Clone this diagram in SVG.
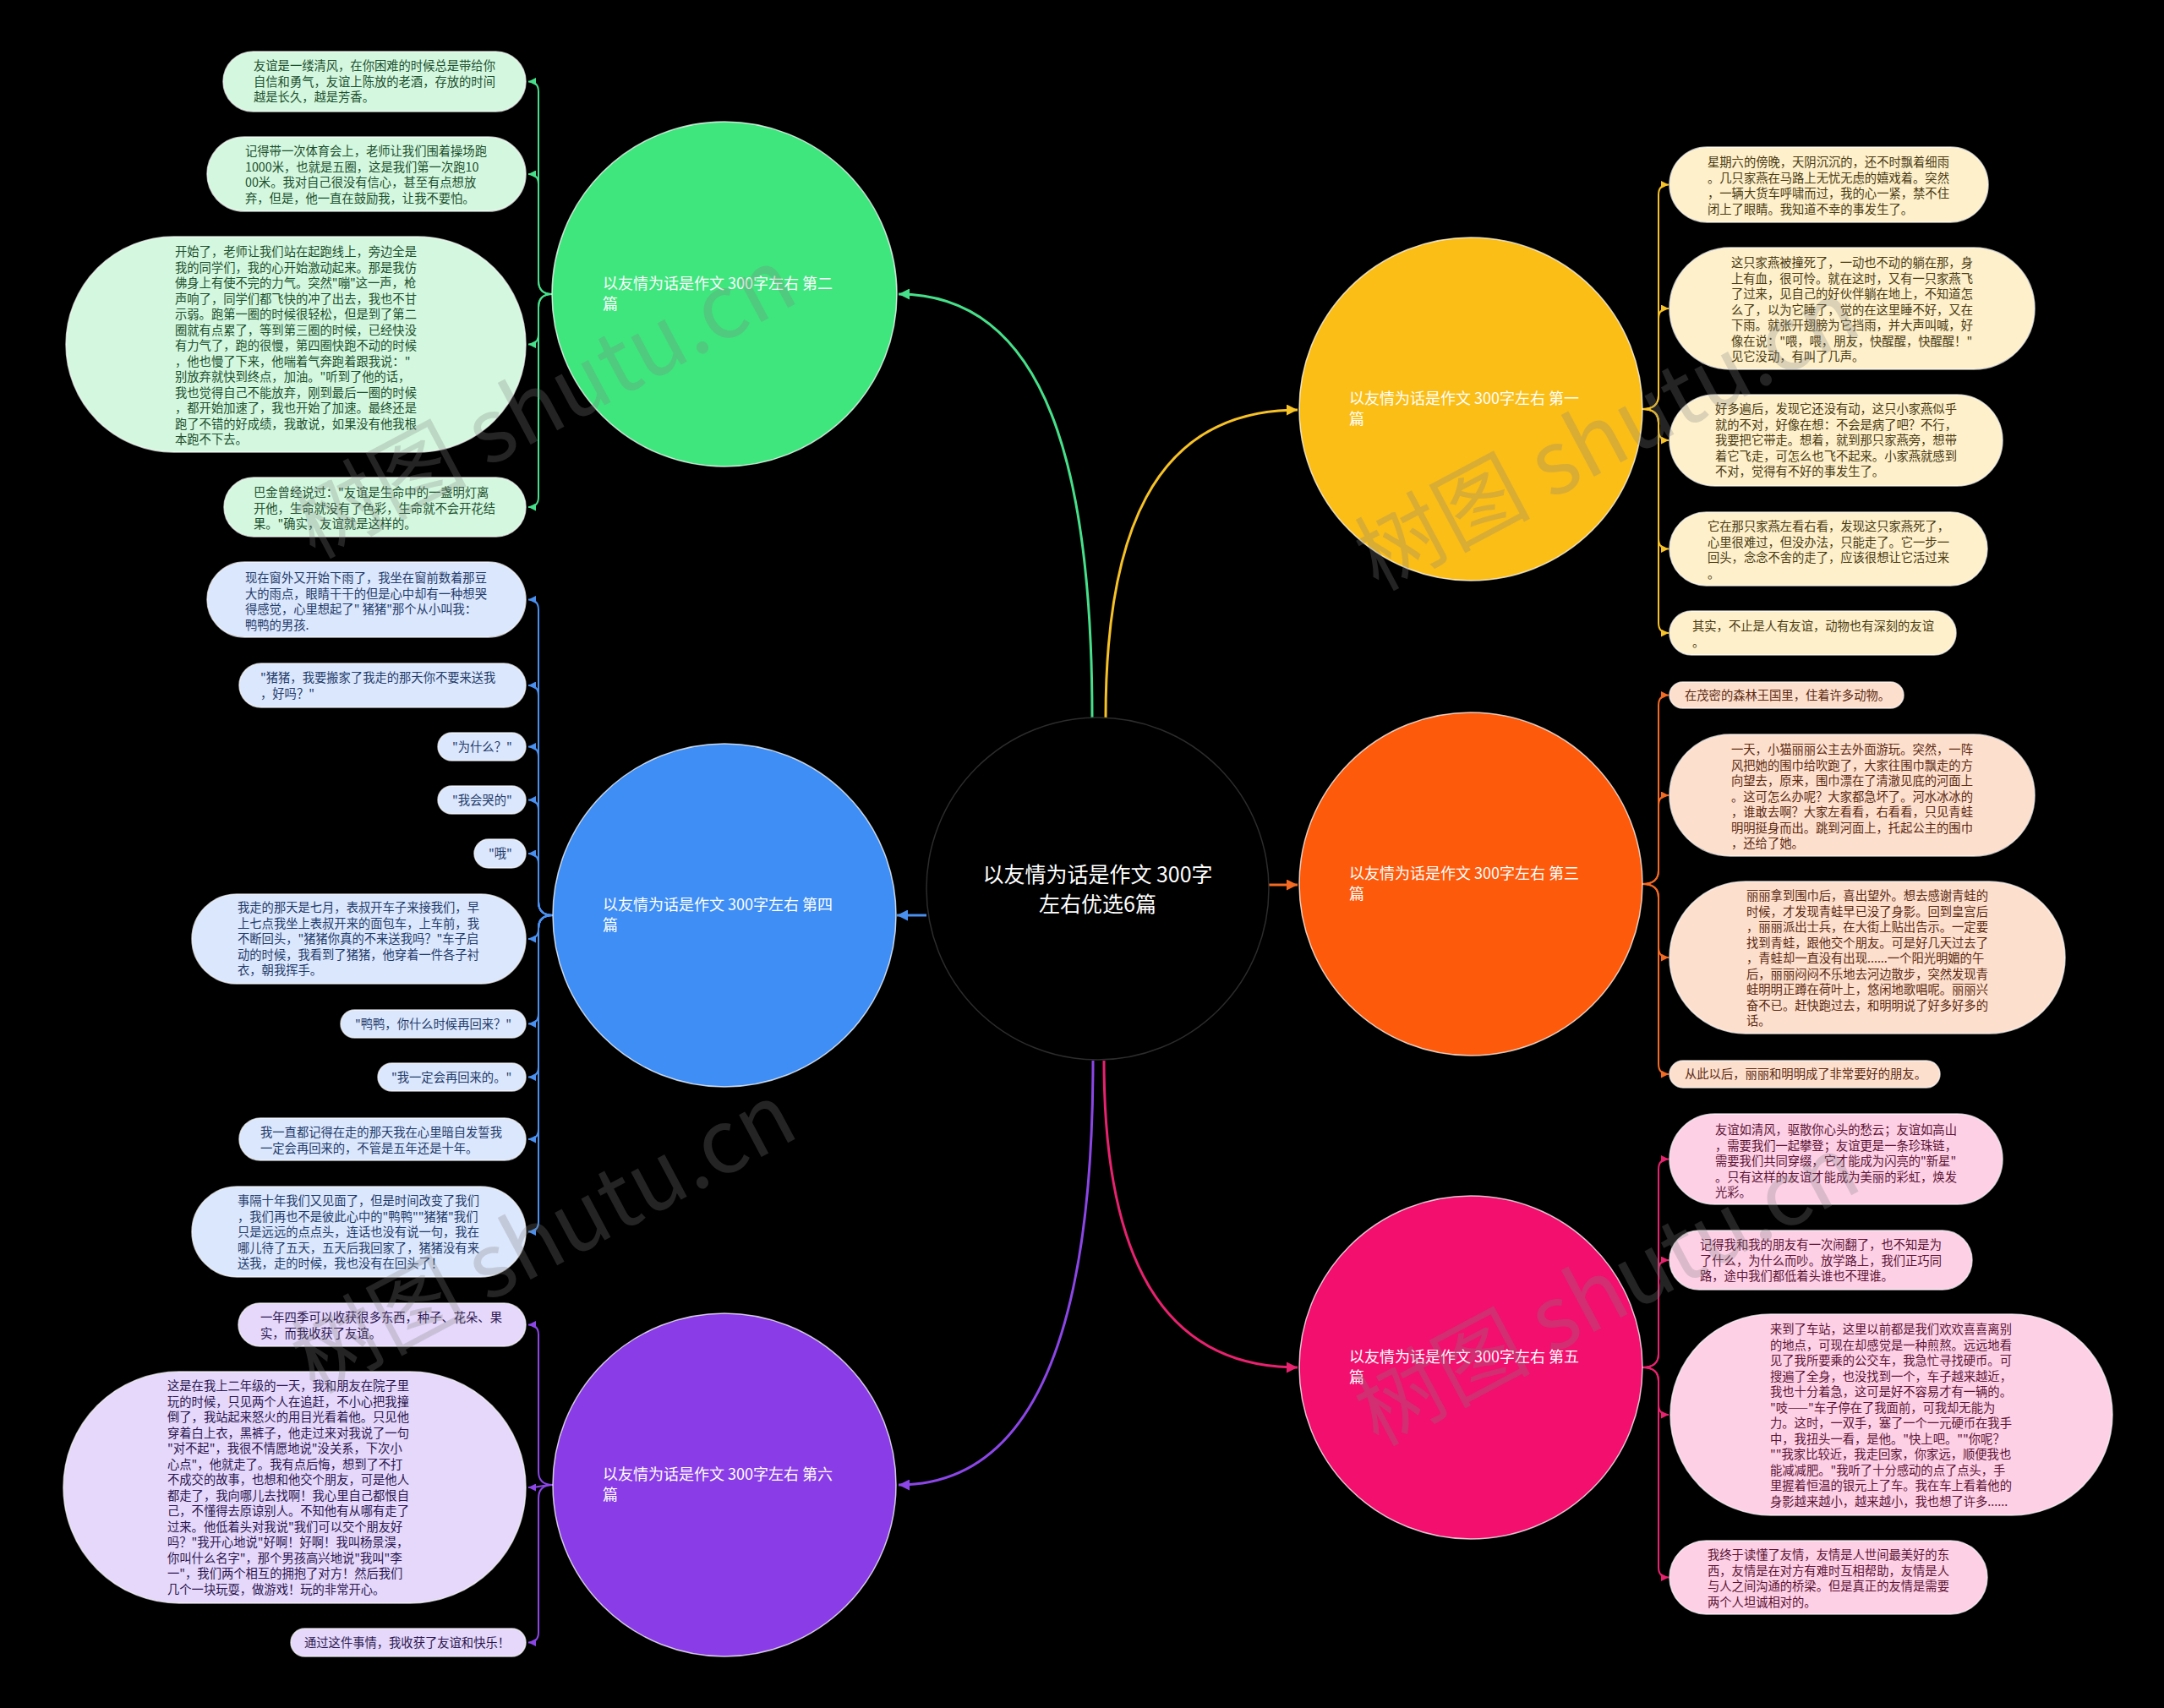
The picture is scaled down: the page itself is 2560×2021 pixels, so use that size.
<svg xmlns="http://www.w3.org/2000/svg" width="2560" height="2021" viewBox="0 0 2560 2021">
<defs>
<style>
text{font-family:"Noto Sans CJK SC","Noto Sans",sans-serif;}
.lt{font-size:14.3px;}
.lab{font-size:18px;fill:#ffffff;}
.ctr{font-size:25px;fill:#ffffff;text-anchor:middle;}
.main{stroke:#ffffff;stroke-opacity:0.75;stroke-width:1.5;}
.leaf rect{stroke:#ffffff;stroke-opacity:0.7;stroke-width:1.5;}
.g rect{fill:#d4f8df;} .g text{fill:#1c4f2e;}
.b rect{fill:#dbe7fc;} .b text{fill:#1f3b6b;}
.p rect{fill:#e5d8fa;} .p text{fill:#2b1650;}
.y rect{fill:#fdf0cb;} .y text{fill:#4a3a12;}
.o rect{fill:#fddfcd;} .o text{fill:#5b2a12;}
.k rect{fill:#fdd0e6;} .k text{fill:#5c1434;}
.ln{fill:none;stroke-width:2;}
.mln{fill:none;stroke-width:3;}
.wm{font-size:104px;fill:#808080;fill-opacity:0.28;}
</style>
<marker id="ag" viewBox="0 0 10 10" refX="10" refY="5" markerWidth="9" markerHeight="9" markerUnits="userSpaceOnUse" orient="auto"><path d="M0,0 L10,5 L0,10 z" fill="#47e08a"/></marker>
<marker id="ab" viewBox="0 0 10 10" refX="10" refY="5" markerWidth="9" markerHeight="9" markerUnits="userSpaceOnUse" orient="auto"><path d="M0,0 L10,5 L0,10 z" fill="#4a90f0"/></marker>
<marker id="ap" viewBox="0 0 10 10" refX="10" refY="5" markerWidth="9" markerHeight="9" markerUnits="userSpaceOnUse" orient="auto"><path d="M0,0 L10,5 L0,10 z" fill="#8c46e8"/></marker>
<marker id="ay" viewBox="0 0 10 10" refX="10" refY="5" markerWidth="9" markerHeight="9" markerUnits="userSpaceOnUse" orient="auto"><path d="M0,0 L10,5 L0,10 z" fill="#f7c226"/></marker>
<marker id="ao" viewBox="0 0 10 10" refX="10" refY="5" markerWidth="9" markerHeight="9" markerUnits="userSpaceOnUse" orient="auto"><path d="M0,0 L10,5 L0,10 z" fill="#f46a22"/></marker>
<marker id="ak" viewBox="0 0 10 10" refX="10" refY="5" markerWidth="9" markerHeight="9" markerUnits="userSpaceOnUse" orient="auto"><path d="M0,0 L10,5 L0,10 z" fill="#e8226f"/></marker>
<marker id="Mg" viewBox="0 0 10 10" refX="10" refY="5" markerWidth="13" markerHeight="13" markerUnits="userSpaceOnUse" orient="auto"><path d="M0,0 L10,5 L0,10 z" fill="#47e08a"/></marker>
<marker id="Mb" viewBox="0 0 10 10" refX="10" refY="5" markerWidth="13" markerHeight="13" markerUnits="userSpaceOnUse" orient="auto"><path d="M0,0 L10,5 L0,10 z" fill="#4a90f0"/></marker>
<marker id="Mp" viewBox="0 0 10 10" refX="10" refY="5" markerWidth="13" markerHeight="13" markerUnits="userSpaceOnUse" orient="auto"><path d="M0,0 L10,5 L0,10 z" fill="#8c46e8"/></marker>
<marker id="My" viewBox="0 0 10 10" refX="10" refY="5" markerWidth="13" markerHeight="13" markerUnits="userSpaceOnUse" orient="auto"><path d="M0,0 L10,5 L0,10 z" fill="#f7c226"/></marker>
<marker id="Mo" viewBox="0 0 10 10" refX="10" refY="5" markerWidth="13" markerHeight="13" markerUnits="userSpaceOnUse" orient="auto"><path d="M0,0 L10,5 L0,10 z" fill="#f46a22"/></marker>
<marker id="Mk" viewBox="0 0 10 10" refX="10" refY="5" markerWidth="13" markerHeight="13" markerUnits="userSpaceOnUse" orient="auto"><path d="M0,0 L10,5 L0,10 z" fill="#e8226f"/></marker>
</defs>
<rect x="0" y="0" width="2560" height="2021" fill="#000000"/>

<g id="connectors">
<path class="mln" stroke="#47e08a" marker-end="url(#Mg)" d="M1292,849 C1292,560 1240,348 1063,348"/>
<path class="mln" stroke="#f7c226" marker-end="url(#My)" d="M1308,849 C1308,640 1360,485 1535,485"/>
<path class="mln" stroke="#f46a22" marker-end="url(#Mo)" d="M1501,1047 L1535,1047"/>
<path class="mln" stroke="#4a90f0" marker-end="url(#Mb)" d="M1096,1083 L1061,1083"/>
<path class="mln" stroke="#8c46e8" marker-end="url(#Mp)" d="M1293,1255 C1293,1560 1230,1757 1063,1757"/>
<path class="mln" stroke="#e8226f" marker-end="url(#Mk)" d="M1306,1255 C1306,1480 1370,1618 1535,1618"/>

<g stroke="#47e08a">
<path class="ln" marker-end="url(#ag)" d="M653,348 Q637,348 637,332 L637,108.5 Q637,96.5 625,96.5"/>
<path class="ln" marker-end="url(#ag)" d="M653,348 Q637,348 637,332 L637,218 Q637,206 625,206"/>
<path class="ln" marker-end="url(#ag)" d="M653,348 Q637,348 637,364 L637,395.5 Q637,407.5 625,407.5"/>
<path class="ln" marker-end="url(#ag)" d="M653,348 Q637,348 637,364 L637,588 Q637,600 625,600"/>
</g>
<g stroke="#4a90f0">
<path class="ln" marker-end="url(#ab)" d="M654,1083 Q637,1083 637,1067 L637,721.5 Q637,709.5 625,709.5"/>
<path class="ln" marker-end="url(#ab)" d="M654,1083 Q637,1083 637,1067 L637,823 Q637,811 625,811"/>
<path class="ln" marker-end="url(#ab)" d="M654,1083 Q637,1083 637,1067 L637,895.5 Q637,883.5 625,883.5"/>
<path class="ln" marker-end="url(#ab)" d="M654,1083 Q637,1083 637,1067 L637,958.5 Q637,946.5 625,946.5"/>
<path class="ln" marker-end="url(#ab)" d="M654,1083 Q637,1083 637,1067 L637,1022 Q637,1010 625,1010"/>
<path class="ln" marker-end="url(#ab)" d="M654,1083 Q637,1083 637,1097 L637,1099 Q637,1111 625,1111"/>
<path class="ln" marker-end="url(#ab)" d="M654,1083 Q637,1083 637,1099 L637,1199.5 Q637,1211.5 625,1211.5"/>
<path class="ln" marker-end="url(#ab)" d="M654,1083 Q637,1083 637,1099 L637,1262.5 Q637,1274.5 625,1274.5"/>
<path class="ln" marker-end="url(#ab)" d="M654,1083 Q637,1083 637,1099 L637,1336 Q637,1348 625,1348"/>
<path class="ln" marker-end="url(#ab)" d="M654,1083 Q637,1083 637,1099 L637,1445.5 Q637,1457.5 625,1457.5"/>
</g>
<g stroke="#8c46e8">
<path class="ln" marker-end="url(#ap)" d="M654,1757 Q637,1757 637,1741 L637,1579.5 Q637,1567.5 625,1567.5"/>
<path class="ln" marker-end="url(#ap)" d="M654,1757 C640,1757 640,1760 625,1760"/>
<path class="ln" marker-end="url(#ap)" d="M654,1757 Q637,1757 637,1773 L637,1931.5 Q637,1943.5 625,1943.5"/>
</g>
<g stroke="#f7c226">
<path class="ln" marker-end="url(#ay)" d="M1943,484 Q1962,484 1962,468 L1962,230.5 Q1962,218.5 1974,218.5"/>
<path class="ln" marker-end="url(#ay)" d="M1943,484 Q1962,484 1962,468 L1962,377 Q1962,365 1974,365"/>
<path class="ln" marker-end="url(#ay)" d="M1943,484 Q1962,484 1962,500 L1962,509 Q1962,521 1974,521"/>
<path class="ln" marker-end="url(#ay)" d="M1943,484 Q1962,484 1962,500 L1962,637.5 Q1962,649.5 1974,649.5"/>
<path class="ln" marker-end="url(#ay)" d="M1943,484 Q1962,484 1962,500 L1962,737 Q1962,749 1974,749"/>
</g>
<g stroke="#f46a22">
<path class="ln" marker-end="url(#ao)" d="M1943,1046 Q1962,1046 1962,1030 L1962,834.5 Q1962,822.5 1974,822.5"/>
<path class="ln" marker-end="url(#ao)" d="M1943,1046 Q1962,1046 1962,1030 L1962,953 Q1962,941 1974,941"/>
<path class="ln" marker-end="url(#ao)" d="M1943,1046 Q1962,1046 1962,1062 L1962,1121 Q1962,1133 1974,1133"/>
<path class="ln" marker-end="url(#ao)" d="M1943,1046 Q1962,1046 1962,1062 L1962,1259 Q1962,1271 1974,1271"/>
</g>
<g stroke="#e8226f">
<path class="ln" marker-end="url(#ak)" d="M1943,1618 Q1962,1618 1962,1602 L1962,1383.5 Q1962,1371.5 1974,1371.5"/>
<path class="ln" marker-end="url(#ak)" d="M1943,1618 Q1962,1618 1962,1602 L1962,1503 Q1962,1491 1974,1491"/>
<path class="ln" marker-end="url(#ak)" d="M1943,1618 Q1962,1618 1962,1634 L1962,1662 Q1962,1674 1974,1674"/>
<path class="ln" marker-end="url(#ak)" d="M1943,1618 Q1962,1618 1962,1634 L1962,1854.5 Q1962,1866.5 1974,1866.5"/>
</g>
</g>

<g id="center">
<circle cx="1298.5" cy="1051.5" r="202.5" fill="#000000" stroke="#2c2c2c" stroke-width="1.5"/>
<text class="ctr"><tspan x="1298.5" y="1044">以友情为话是作文 300字</tspan><tspan x="1298.5" y="1079">左右优选6篇</tspan></text>
</g>

<g id="topic-green"><circle class="main" cx="857" cy="348" r="204" fill="#3ee67d"/>
<text class="lab"><tspan x="713" y="342">以友情为话是作文 300字左右 第二</tspan><tspan x="713" y="366">篇</tspan></text></g>
<g id="topic-blue"><circle class="main" cx="857" cy="1083" r="203" fill="#3e8ef5"/>
<text class="lab"><tspan x="713" y="1077">以友情为话是作文 300字左右 第四</tspan><tspan x="713" y="1101">篇</tspan></text></g>
<g id="topic-purple"><circle class="main" cx="857" cy="1757" r="203" fill="#8a3de6"/>
<text class="lab"><tspan x="713" y="1751">以友情为话是作文 300字左右 第六</tspan><tspan x="713" y="1775">篇</tspan></text></g>
<g id="topic-yellow"><circle class="main" cx="1740" cy="484" r="203" fill="#fbbe17"/>
<text class="lab"><tspan x="1596" y="478">以友情为话是作文 300字左右 第一</tspan><tspan x="1596" y="502">篇</tspan></text></g>
<g id="topic-orange"><circle class="main" cx="1740" cy="1046" r="203" fill="#fd5a0b"/>
<text class="lab"><tspan x="1596" y="1040">以友情为话是作文 300字左右 第三</tspan><tspan x="1596" y="1064">篇</tspan></text></g>
<g id="topic-pink"><circle class="main" cx="1740" cy="1618" r="203" fill="#f20f6d"/>
<text class="lab"><tspan x="1596" y="1612">以友情为话是作文 300字左右 第五</tspan><tspan x="1596" y="1636">篇</tspan></text></g>

<g id="g1" class="leaf g"><rect x="264" y="61" width="358" height="71" rx="35.5"/>
<text class="lt"><tspan x="300" y="83">友谊是一缕清风，在你困难的时候总是带给你</tspan><tspan x="300" y="101.5">自信和勇气，友谊上陈放的老酒，存放的时间</tspan><tspan x="300" y="120">越是长久，越是芳香。</tspan></text></g>
<g id="g2" class="leaf g"><rect x="245" y="162" width="377" height="88" rx="44"/>
<text class="lt"><tspan x="290" y="184">记得带一次体育会上，老师让我们围着操场跑</tspan><tspan x="290" y="202.5">1000米，也就是五圈，这是我们第一次跑10</tspan><tspan x="290" y="221">00米。我对自己很没有信心，甚至有点想放</tspan><tspan x="290" y="239.5">弃，但是，他一直在鼓励我，让我不要怕。</tspan></text></g>
<g id="g3" class="leaf g"><rect x="78" y="280" width="544" height="255" rx="127.5"/>
<text class="lt"><tspan x="207" y="303">开始了，老师让我们站在起跑线上，旁边全是</tspan><tspan x="207" y="321.5">我的同学们，我的心开始激动起来。那是我仿</tspan><tspan x="207" y="340">佛身上有使不完的力气。突然"嘣"这一声，枪</tspan><tspan x="207" y="358.5">声响了，同学们都飞快的冲了出去，我也不甘</tspan><tspan x="207" y="377">示弱。跑第一圈的时候很轻松，但是到了第二</tspan><tspan x="207" y="395.5">圈就有点累了，等到第三圈的时候，已经快没</tspan><tspan x="207" y="414">有力气了，跑的很慢，第四圈快跑不动的时候</tspan><tspan x="207" y="432.5">，他也慢了下来，他喘着气奔跑着跟我说："</tspan><tspan x="207" y="451">别放弃就快到终点，加油。"听到了他的话，</tspan><tspan x="207" y="469.5">我也觉得自己不能放弃，刚到最后一圈的时候</tspan><tspan x="207" y="488">，都开始加速了，我也开始了加速。最终还是</tspan><tspan x="207" y="506.5">跑了不错的好成绩，我敢说，如果没有他我根</tspan><tspan x="207" y="525">本跑不下去。</tspan></text></g>
<g id="g4" class="leaf g"><rect x="265" y="565" width="357" height="70" rx="35"/>
<text class="lt"><tspan x="300" y="588">巴金曾经说过："友谊是生命中的一盏明灯离</tspan><tspan x="300" y="606.5">开他，生命就没有了色彩，生命就不会开花结</tspan><tspan x="300" y="625">果。"确实，友谊就是这样的。</tspan></text></g>

<g id="b1" class="leaf b"><rect x="245" y="665" width="377" height="89" rx="44.5"/>
<text class="lt"><tspan x="290" y="689">现在窗外又开始下雨了，我坐在窗前数着那豆</tspan><tspan x="290" y="707.5">大的雨点，眼睛干干的但是心中却有一种想哭</tspan><tspan x="290" y="726">得感觉，心里想起了" 猪猪"那个从小叫我：</tspan><tspan x="290" y="744.5">鸭鸭的男孩.</tspan></text></g>
<g id="b2" class="leaf b"><rect x="283" y="785" width="339" height="52" rx="26"/>
<text class="lt"><tspan x="308" y="807">"猪猪，我要搬家了我走的那天你不要来送我</tspan><tspan x="308" y="825.5">，好吗？"</tspan></text></g>
<g id="b3" class="leaf b"><rect x="518" y="867" width="104" height="33" rx="16.5"/>
<text class="lt"><tspan x="535" y="889">"为什么？"</tspan></text></g>
<g id="b4" class="leaf b"><rect x="518" y="930" width="104" height="33" rx="16.5"/>
<text class="lt"><tspan x="535" y="952">"我会哭的"</tspan></text></g>
<g id="b5" class="leaf b"><rect x="561" y="993" width="61" height="34" rx="17"/>
<text class="lt"><tspan x="578" y="1015">"哦"</tspan></text></g>
<g id="b6" class="leaf b"><rect x="227" y="1058" width="395" height="106" rx="53"/>
<text class="lt"><tspan x="281" y="1079">我走的那天是七月，表叔开车子来接我们，早</tspan><tspan x="281" y="1097.5">上七点我坐上表叔开来的面包车，上车前，我</tspan><tspan x="281" y="1116">不断回头，"猪猪你真的不来送我吗？"车子启</tspan><tspan x="281" y="1134.5">动的时候，我看到了猪猪，他穿着一件各子衬</tspan><tspan x="281" y="1153">衣，朝我挥手。</tspan></text></g>
<g id="b7" class="leaf b"><rect x="403" y="1195" width="219" height="33" rx="16.5"/>
<text class="lt"><tspan x="420" y="1217">"鸭鸭，你什么时候再回来？"</tspan></text></g>
<g id="b8" class="leaf b"><rect x="447" y="1258" width="175" height="33" rx="16.5"/>
<text class="lt"><tspan x="463" y="1280">"我一定会再回来的。"</tspan></text></g>
<g id="b9" class="leaf b"><rect x="283" y="1323" width="339" height="50" rx="25"/>
<text class="lt"><tspan x="308" y="1345">我一直都记得在走的那天我在心里暗自发誓我</tspan><tspan x="308" y="1363.5">一定会再回来的，不管是五年还是十年。</tspan></text></g>
<g id="b10" class="leaf b"><rect x="227" y="1404" width="395" height="107" rx="53.5"/>
<text class="lt"><tspan x="281" y="1426">事隔十年我们又见面了，但是时间改变了我们</tspan><tspan x="281" y="1444.5">，我们再也不是彼此心中的"鸭鸭""猪猪"我们</tspan><tspan x="281" y="1463">只是远远的点点头，连话也没有说一句，我在</tspan><tspan x="281" y="1481.5">哪儿待了五天，五天后我回家了，猪猪没有来</tspan><tspan x="281" y="1500">送我，走的时候，我也没有在回头了！</tspan></text></g>

<g id="p1" class="leaf p"><rect x="282" y="1542" width="340" height="51" rx="25.5"/>
<text class="lt"><tspan x="308" y="1564">一年四季可以收获很多东西，种子、花朵、果</tspan><tspan x="308" y="1582.5">实，而我收获了友谊。</tspan></text></g>
<g id="p2" class="leaf p"><rect x="75" y="1623" width="547" height="274" rx="137"/>
<text class="lt"><tspan x="198" y="1645">这是在我上二年级的一天，我和朋友在院子里</tspan><tspan x="198" y="1663.5">玩的时候，只见两个人在追赶，不小心把我撞</tspan><tspan x="198" y="1682">倒了，我站起来怒火的用目光看着他。只见他</tspan><tspan x="198" y="1700.5">穿着白上衣，黑裤子，他走过来对我说了一句</tspan><tspan x="198" y="1719">"对不起"，我很不情愿地说"没关系，下次小</tspan><tspan x="198" y="1737.5">心点"，他就走了。我有点后悔，想到了不打</tspan><tspan x="198" y="1756">不成交的故事，也想和他交个朋友，可是他人</tspan><tspan x="198" y="1774.5">都走了，我向哪儿去找啊！我心里自己都恨自</tspan><tspan x="198" y="1793">己，不懂得去原谅别人。不知他有从哪有走了</tspan><tspan x="198" y="1811.5">过来。他低着头对我说"我们可以交个朋友好</tspan><tspan x="198" y="1830">吗？"我开心地说"好啊！好啊！我叫杨景淏，</tspan><tspan x="198" y="1848.5">你叫什么名字"，那个男孩高兴地说"我叫"李</tspan><tspan x="198" y="1867">一"，我们两个相互的拥抱了对方！然后我们</tspan><tspan x="198" y="1885.5">几个一块玩耍，做游戏！玩的非常开心。</tspan></text></g>
<g id="p3" class="leaf p"><rect x="344" y="1927" width="278" height="33" rx="16.5"/>
<text class="lt"><tspan x="360" y="1949">通过这件事情，我收获了友谊和快乐！</tspan></text></g>

<g id="y1" class="leaf y"><rect x="1975" y="174" width="377" height="89" rx="44.5"/>
<text class="lt"><tspan x="2020" y="197">星期六的傍晚，天阴沉沉的，还不时飘着细雨</tspan><tspan x="2020" y="215.5">。几只家燕在马路上无忧无虑的嬉戏着。突然</tspan><tspan x="2020" y="234">，一辆大货车呼啸而过，我的心一紧，禁不住</tspan><tspan x="2020" y="252.5">闭上了眼睛。我知道不幸的事发生了。</tspan></text></g>
<g id="y2" class="leaf y"><rect x="1975" y="293" width="432" height="144" rx="72"/>
<text class="lt"><tspan x="2048" y="316">这只家燕被撞死了，一动也不动的躺在那，身</tspan><tspan x="2048" y="334.5">上有血，很可怜。就在这时，又有一只家燕飞</tspan><tspan x="2048" y="353">了过来，见自己的好伙伴躺在地上，不知道怎</tspan><tspan x="2048" y="371.5">么了，以为它睡了，觉的在这里睡不好，又在</tspan><tspan x="2048" y="390">下雨。就张开翅膀为它挡雨，并大声叫喊，好</tspan><tspan x="2048" y="408.5">像在说："喂，喂，朋友，快醒醒，快醒醒！"</tspan><tspan x="2048" y="427">见它没动，有叫了几声。</tspan></text></g>
<g id="y3" class="leaf y"><rect x="1975" y="467" width="394" height="108" rx="54"/>
<text class="lt"><tspan x="2029" y="489">好多遍后，发现它还没有动，这只小家燕似乎</tspan><tspan x="2029" y="507.5">就的不对，好像在想：不会是病了吧？不行，</tspan><tspan x="2029" y="526">我要把它带走。想着，就到那只家燕旁，想带</tspan><tspan x="2029" y="544.5">着它飞走，可怎么也飞不起来。小家燕就感到</tspan><tspan x="2029" y="563">不对，觉得有不好的事发生了。</tspan></text></g>
<g id="y4" class="leaf y"><rect x="1975" y="606" width="376" height="87" rx="43.5"/>
<text class="lt"><tspan x="2020" y="628">它在那只家燕左看右看，发现这只家燕死了，</tspan><tspan x="2020" y="646.5">心里很难过，但没办法，只能走了。它一步一</tspan><tspan x="2020" y="665">回头，念念不舍的走了，应该很想让它活过来</tspan><tspan x="2020" y="683.5">。</tspan></text></g>
<g id="y5" class="leaf y"><rect x="1975" y="723" width="339" height="52" rx="26"/>
<text class="lt"><tspan x="2002" y="746">其实，不止是人有友谊，动物也有深刻的友谊</tspan><tspan x="2002" y="764.5">。</tspan></text></g>

<g id="o1" class="leaf o"><rect x="1975" y="807" width="277" height="31" rx="15.5"/>
<text class="lt"><tspan x="1993" y="827.5">在茂密的森林王国里，住着许多动物。</tspan></text></g>
<g id="o2" class="leaf o"><rect x="1975" y="869" width="432" height="144" rx="72"/>
<text class="lt"><tspan x="2048" y="892">一天，小猫丽丽公主去外面游玩。突然，一阵</tspan><tspan x="2048" y="910.5">风把她的围巾给吹跑了，大家往围巾飘走的方</tspan><tspan x="2048" y="929">向望去，原来，围巾漂在了清澈见底的河面上</tspan><tspan x="2048" y="947.5">。这可怎么办呢？大家都急坏了。河水冰冰的</tspan><tspan x="2048" y="966">，谁敢去啊？大家左看看，右看看，只见青蛙</tspan><tspan x="2048" y="984.5">明明挺身而出。跳到河面上，托起公主的围巾</tspan><tspan x="2048" y="1003">，还给了她。</tspan></text></g>
<g id="o3" class="leaf o"><rect x="1975" y="1043" width="468" height="180" rx="90"/>
<text class="lt"><tspan x="2066" y="1065">丽丽拿到围巾后，喜出望外。想去感谢青蛙的</tspan><tspan x="2066" y="1083.5">时候，才发现青蛙早已没了身影。回到皇宫后</tspan><tspan x="2066" y="1102">，丽丽派出士兵，在大街上贴出告示。一定要</tspan><tspan x="2066" y="1120.5">找到青蛙，跟他交个朋友。可是好几天过去了</tspan><tspan x="2066" y="1139">，青蛙却一直没有出现......一个阳光明媚的午</tspan><tspan x="2066" y="1157.5">后，丽丽闷闷不乐地去河边散步，突然发现青</tspan><tspan x="2066" y="1176">蛙明明正蹲在荷叶上，悠闲地歌唱呢。丽丽兴</tspan><tspan x="2066" y="1194.5">奋不已。赶快跑过去，和明明说了好多好多的</tspan><tspan x="2066" y="1213">话。</tspan></text></g>
<g id="o4" class="leaf o"><rect x="1975" y="1255" width="320" height="32" rx="16"/>
<text class="lt"><tspan x="1993" y="1276">从此以后，丽丽和明明成了非常要好的朋友。</tspan></text></g>

<g id="k1" class="leaf k"><rect x="1975" y="1318" width="394" height="107" rx="53.5"/>
<text class="lt"><tspan x="2029" y="1342">友谊如清风，驱散你心头的愁云；友谊如高山</tspan><tspan x="2029" y="1360.5">，需要我们一起攀登；友谊更是一条珍珠链，</tspan><tspan x="2029" y="1379">需要我们共同穿缀，它才能成为闪亮的"新星"</tspan><tspan x="2029" y="1397.5">。只有这样的友谊才能成为美丽的彩虹，焕发</tspan><tspan x="2029" y="1416">光彩。</tspan></text></g>
<g id="k2" class="leaf k"><rect x="1975" y="1456" width="358" height="70" rx="35"/>
<text class="lt"><tspan x="2011" y="1478">记得我和我的朋友有一次闹翻了，也不知是为</tspan><tspan x="2011" y="1496.5">了什么，为什么而吵。放学路上，我们正巧同</tspan><tspan x="2011" y="1515">路，途中我们都低着头谁也不理谁。</tspan></text></g>
<g id="k3" class="leaf k"><rect x="1976" y="1555" width="523" height="238" rx="119"/>
<text class="lt"><tspan x="2094" y="1578">来到了车站，这里以前都是我们欢欢喜喜离别</tspan><tspan x="2094" y="1596.5">的地点，可现在却感觉是一种煎熬。远远地看</tspan><tspan x="2094" y="1615">见了我所要乘的公交车，我急忙寻找硬币。可</tspan><tspan x="2094" y="1633.5">搜遍了全身，也没找到一个，车子越来越近，</tspan><tspan x="2094" y="1652">我也十分着急，这可是好不容易才有一辆的。</tspan><tspan x="2094" y="1670.5">"吱——"车子停在了我面前，可我却无能为</tspan><tspan x="2094" y="1689">力。这时，一双手，塞了一个一元硬币在我手</tspan><tspan x="2094" y="1707.5">中，我扭头一看，是他。"快上吧。""你呢？</tspan><tspan x="2094" y="1726">""我家比较近，我走回家，你家远，顺便我也</tspan><tspan x="2094" y="1744.5">能减减肥。"我听了十分感动的点了点头，手</tspan><tspan x="2094" y="1763">里握着恒温的银元上了车。我在车上看着他的</tspan><tspan x="2094" y="1781.5">身影越来越小，越来越小，我也想了许多......</tspan></text></g>
<g id="k4" class="leaf k"><rect x="1975" y="1823" width="376" height="87" rx="43.5"/>
<text class="lt"><tspan x="2020" y="1845">我终于读懂了友情，友情是人世间最美好的东</tspan><tspan x="2020" y="1863.5">西，友情是在对方有难时互相帮助，友情是人</tspan><tspan x="2020" y="1882">与人之间沟通的桥梁。但是真正的友情是需要</tspan><tspan x="2020" y="1900.5">两个人坦诚相对的。</tspan></text></g>

<g id="watermark">
<text class="wm" transform="translate(372,662) rotate(-28)">树图 shutu.cn</text>
<text class="wm" transform="translate(372,1650) rotate(-28)">树图 shutu.cn</text>
<text class="wm" transform="translate(1630,700) rotate(-28)">树图 shutu.cn</text>
<text class="wm" transform="translate(1630,1712) rotate(-28)">树图 shutu.cn</text>
</g>
</svg>
